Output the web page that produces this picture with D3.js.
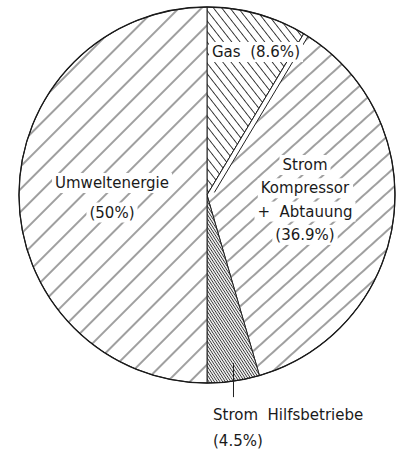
<!DOCTYPE html>
<html>
<head>
<meta charset="utf-8">
<script src="https://cdn.jsdelivr.net/npm/d3@7"></script>
<style>
  html, body { margin: 0; padding: 0; background: #fff; }
  svg { display: block; }
  text { font-family: "DejaVu Sans", sans-serif; font-size: 15px; fill: #1a1a1a; white-space: pre; }
</style>
</head>
<body>
<svg id="chart" width="400" height="454"></svg>
<script>
// ---- data ----
const categories = ["Gas", "Strom Kompressor + Abtauung", "Strom Hilfsbetriebe", "Umweltenergie"];
const shares = [8.6, 36.9, 4.5, 50];
const labelLines = [
  ["Gas  (8.6%)"],
  ["Strom", "Kompressor", "+  Abtauung", "(36.9%)"],
  ["Strom  Hilfsbetriebe", "(4.5%)"],
  ["Umweltenergie", "(50%)"]
];

// ---- layout ----
const W = 400, H = 454;
const cx = 207, cy = 195, R = 188;
const svg = d3.select("#chart");
const defs = svg.append("defs");

function hatch(id, spacing, angle, sw, color) {
  const p = defs.append("pattern")
    .attr("id", id)
    .attr("patternUnits", "userSpaceOnUse")
    .attr("width", spacing).attr("height", spacing)
    .attr("patternTransform", `rotate(${angle})`);
  p.append("rect").attr("width", spacing).attr("height", spacing).attr("fill", "#fff");
  p.append("line").attr("x1", spacing / 2).attr("x2", spacing / 2)
    .attr("y1", -1).attr("y2", spacing + 1)
    .attr("stroke", color).attr("stroke-width", sw);
}
hatch("h-gas", 6.5, -38, 0.9, "#2a2a2a");
hatch("h-strom", 14, 48, 0.9, "#2a2a2a");
hatch("h-hilf", 2.3, -33, 0.9, "#333");
hatch("h-umwelt", 16, 45, 0.9, "#2a2a2a");
const fills = ["url(#h-gas)", "url(#h-strom)", "url(#h-hilf)", "url(#h-umwelt)"];

const data = categories.map((c, i) => ({ name: c, v: shares[i], i }));
const pie = d3.pie().sort(null).value(d => d.v).startAngle(0).endAngle(2 * Math.PI);
const arcs = pie(data);
const arc = d3.arc().innerRadius(0).outerRadius(R);

const g = svg.append("g").attr("transform", `translate(${cx},${cy})`);

g.selectAll("path.slice").data(arcs).enter().append("path")
  .attr("class", "slice")
  .attr("d", arc)
  .attr("fill", d => fills[d.data.i])
  .attr("stroke", "#222").attr("stroke-width", 1);

// double-line band along the Gas / Strom boundary
const a0 = arcs[0].endAngle;
const off = 5;
const dir = [Math.sin(a0), -Math.cos(a0)];
const nrm = [Math.cos(a0), Math.sin(a0)];
const tEnd = Math.sqrt(R * R - off * off);
const band = [
  [0, 0],
  [dir[0] * R, dir[1] * R],
  [dir[0] * tEnd + nrm[0] * off, dir[1] * tEnd + nrm[1] * off],
  [nrm[0] * off + dir[0] * 6, nrm[1] * off + dir[1] * 6]
];
g.append("path").attr("d", d3.line()(band) + "Z").attr("fill", "#fff").attr("stroke", "none");
g.append("line")
  .attr("x1", 0).attr("y1", 0).attr("x2", dir[0] * R).attr("y2", dir[1] * R)
  .attr("stroke", "#222").attr("stroke-width", 1);
g.append("line")
  .attr("x1", band[3][0]).attr("y1", band[3][1]).attr("x2", band[2][0]).attr("y2", band[2][1])
  .attr("stroke", "#222").attr("stroke-width", 1);

// outline
g.append("circle").attr("r", R).attr("fill", "none").attr("stroke", "#1a1a1a").attr("stroke-width", 1.3);

// ---- labels ----
function addLabel(lines, x, y0, dy, anchor) {
  const grp = svg.append("g");
  lines.forEach((t, k) => {
    grp.append("text").attr("x", x).attr("y", y0 + k * dy)
      .attr("text-anchor", anchor).text(t);
  });
  grp.selectAll("text").each(function () {
    const b = this.getBBox();
    grp.insert("rect", "text")
      .attr("x", b.x - 3).attr("y", b.y - 1)
      .attr("width", b.width + 6).attr("height", b.height + 2)
      .attr("fill", "#fff");
  });
}
addLabel(labelLines[0], 212, 57, 0, "start");
addLabel(labelLines[1], 305, 170, 23.3, "middle");
addLabel(labelLines[3], 112, 188, 29.5, "middle");

// leader for Strom Hilfsbetriebe
const mid = (arcs[2].startAngle + arcs[2].endAngle) / 2;
const lx = cx + R * Math.sin(mid), ly = cy - R * Math.cos(mid);
svg.append("line").attr("x1", lx).attr("x2", lx).attr("y1", ly - 18).attr("y2", ly + 16)
  .attr("stroke", "#222").attr("stroke-width", 1);
addLabel(labelLines[2], 213, 420, 26, "start");
</script>
</body>
</html>
